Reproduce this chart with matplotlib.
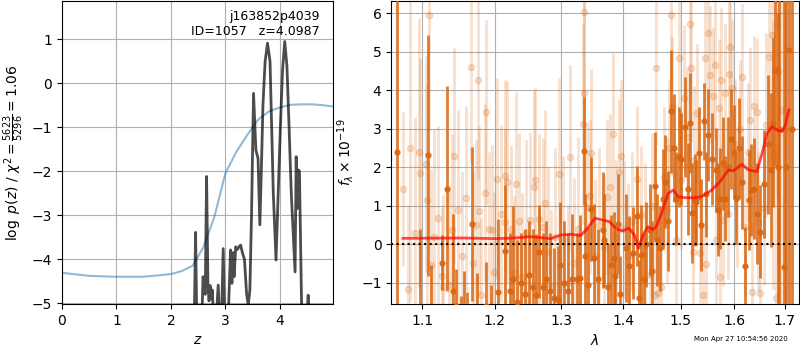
import matplotlib
matplotlib.use("Agg")
import matplotlib.pyplot as plt
from matplotlib.ticker import FixedLocator, FixedFormatter, NullLocator

# ---------------- left panel: p(z) ----------------
z_prior = [0.0, 0.5, 1.0, 1.5, 2.0, 2.2, 2.4, 2.6, 2.8, 3.0, 3.2, 3.4, 3.6, 3.8,
           4.0, 4.2, 4.4, 4.6, 4.8, 4.98]
logp_prior = [-4.31, -4.38, -4.40, -4.40, -4.34, -4.27, -4.15, -3.72, -3.03, -2.05,
              -1.56, -1.18, -0.83, -0.64, -0.55, -0.49, -0.48, -0.48, -0.50, -0.53]

z_pz = [0.0, 2.30, 2.42, 2.440, 2.453, 2.465, 2.48, 2.55, 2.57, 2.59, 2.61, 2.63,
        2.655, 2.68, 2.70, 2.72, 2.74, 2.76, 2.78, 2.83, 2.868, 2.89, 2.93, 2.96,
        2.985, 3.05, 3.075, 3.095, 3.12, 3.14, 3.16, 3.19, 3.22, 3.25, 3.28, 3.316,
        3.35, 3.389, 3.42, 3.45, 3.48, 3.517, 3.56, 3.60, 3.633, 3.66, 3.69, 3.73,
        3.774, 3.82, 3.85, 3.88, 3.93, 3.97, 4.01, 4.05, 4.09, 4.13, 4.17, 4.21,
        4.28, 4.30, 4.32, 4.34, 4.36, 4.40, 4.45, 4.50, 4.52, 4.54, 4.60, 4.98]
logp_pz = [-12.0, -7.0, -6.0, -4.5, -3.39, -4.5, -6.0, -5.5, -5.3, -4.4, -4.6, -4.8,
           -2.12, -4.6, -4.95, -4.6, -4.9, -4.7, -5.3, -5.4, -4.59, -5.3, -5.3, -3.76,
           -5.3, -5.4, -4.5, -3.79, -4.55, -3.85, -4.4, -3.72, -3.78, -3.72, -3.68, -3.87,
           -4.0, -4.78, -5.05, -4.7, -3.0, -0.23, -1.52, -1.71, -3.22, -2.0, -0.5, 0.5,
           0.91, 0.5, -1.0, -2.5, -4.02, -2.5, -1.0, 0.3, 0.95, 0.4, -1.0, -2.5,
           -4.29, -1.67, -2.85, -1.97, -2.0, -5.1, -6.0, -5.3, -4.82, -5.3, -7.0, -9.0]

# ---------------- right panel: spectrum ----------------
wave_d = [1.0673, 1.0970, 1.1072, 1.1116, 1.1260, 1.1329, 1.1411, 1.1451, 1.1522, 1.1568,
          1.1613, 1.1677, 1.1747, 1.1880, 1.1947, 1.2043, 1.2155, 1.2219, 1.2269, 1.2329,
          1.2389, 1.2442, 1.2502, 1.2563, 1.2615, 1.2654, 1.2715, 1.2767, 1.2824, 1.2885,
          1.2954, 1.2979, 1.3042, 1.3105, 1.3175, 1.3244, 1.3297, 1.3361, 1.3380, 1.3415,
          1.3465, 1.3523, 1.3590, 1.3661, 1.3688, 1.3750, 1.3799, 1.3853, 1.3865, 1.3911,
          1.3950, 1.4051, 1.4108, 1.4165, 1.4234, 1.4270, 1.4308, 1.4350, 1.4395, 1.4453,
          1.4500, 1.4540, 1.4582, 1.4628, 1.4688, 1.4729, 1.4777, 1.4823, 1.4877, 1.4926,
          1.4968, 1.5016, 1.5076, 1.5138, 1.5168, 1.5212, 1.5259, 1.5272, 1.5333, 1.5380,
          1.5426, 1.5470, 1.5508, 1.5583, 1.5645, 1.5690, 1.5727, 1.5791, 1.5822, 1.5880,
          1.5938, 1.5984, 1.6040, 1.6092, 1.6145, 1.6210, 1.6276, 1.6327, 1.6375, 1.6440,
          1.6495, 1.6586, 1.6650, 1.6721, 1.6761, 1.6808, 1.6860, 1.6889, 1.6979, 1.7030,
          1.7082, 1.7150]
flux_d = [2.4, -1.8, 2.31, -1.8, -0.48, 1.45, -1.2, -1.6, -2.0, -1.7,
          -2.1, 0.53, -1.8, -1.6, -2.0, -1.25, -0.17, -1.2, -0.9, -1.49,
          -1.0, -1.3, -0.8, -1.1, -1.32, -0.19, -1.1, -0.9, -1.2, -1.4,
          -1.45, -0.54, -1.0, -1.2, -0.9, -0.9, -0.88, 2.42, -0.3, -1.06,
          0.92, -0.36, -0.9, 0.37, 0.10, -1.1, -0.54, -0.36, -0.82, 0.53,
          -1.3, -0.1, -0.56, -0.23, 0.74, -1.4, -0.28, -0.9, 0.0, 0.37,
          -0.7, 1.52, 0.11, -0.1, 1.17, 1.63, 0.6, 3.46, 2.51, 1.19,
          2.26, 2.21, 3.04, 1.44, 3.14, 0.81, 1.15, 1.09, 2.36, 0.5,
          3.2, 1.3, 2.84, 2.21, 1.93, 0.9, 1.19, 2.1, 1.19, 2.0,
          2.73, 2.41, 1.2, 2.49, 1.61, -0.55, 1.15, 1.41, 1.45, 0.8,
          0.33, 1.56, 2.6, 1.93, 3.16, 4.53, 2.0, 3.0, -0.58, 2.0,
          5.05, 3.0]
err_d = [8.0, 2.2, 3.13, 1.26, 0.71, 2.66, 2.0, 0.95, 0.65, 1.0,
         0.85, 2.0, 1.05, 1.15, 0.95, 1.9, 1.7, 1.5, 1.9, 1.6,
         1.3, 1.7, 1.4, 1.5, 1.6, 1.2, 1.4, 1.5, 1.5, 1.3,
         1.4, 1.65, 1.6, 1.5, 1.7, 1.2, 1.64, 1.4, 1.6, 1.5,
         1.36, 1.4, 1.3, 1.5, 1.2, 1.1, 1.3, 1.2, 1.2, 1.3,
         1.0, 1.4, 1.3, 1.2, 1.3, 1.0, 1.3, 1.2, 1.1, 1.2,
         1.3, 1.4, 1.2, 1.1, 1.3, 1.2, 1.3, 1.6, 1.4, 1.2,
         1.3, 1.2, 1.3, 1.2, 1.3, 1.3, 1.2, 1.1, 1.2, 1.2,
         1.0, 1.1, 1.2, 1.2, 1.1, 1.2, 1.3, 1.2, 1.1, 1.3,
         1.3, 1.2, 1.2, 1.3, 1.2, 1.0, 1.3, 1.2, 1.3, 1.3,
         1.2, 1.4, 1.8, 2.0, 2.2, 2.5, 4.0, 5.0, 8.0, 10.0,
         10.0, 10.0]

wave_l = [1.0750, 1.0815, 1.0838, 1.0900, 1.0960, 1.0970, 1.1049, 1.1060, 1.1093, 1.1112,
          1.1160, 1.1214, 1.1268, 1.1282, 1.1362, 1.1402, 1.1425, 1.1480, 1.1537, 1.1600,
          1.1668, 1.1699, 1.1735, 1.1767, 1.1780, 1.1812, 1.1857, 1.1880, 1.1925, 1.1960,
          1.1996, 1.2034, 1.2090, 1.2145, 1.2155, 1.2178, 1.2238, 1.2280, 1.2306, 1.2360,
          1.2402, 1.2460, 1.2515, 1.2575, 1.2600, 1.2662, 1.2722, 1.2748, 1.2790, 1.2835,
          1.2900, 1.2965, 1.3020, 1.3097, 1.3138, 1.3200, 1.3270, 1.3339, 1.3352, 1.3360,
          1.3405, 1.3450, 1.3470, 1.3530, 1.3600, 1.3680, 1.3727, 1.3780, 1.3831, 1.3880,
          1.3930, 1.3966, 1.4020, 1.4080, 1.4150, 1.4230, 1.4300, 1.4380, 1.4453, 1.4500,
          1.4540, 1.4558, 1.4600, 1.4651, 1.4700, 1.4750, 1.4790, 1.4823, 1.4850, 1.4926,
          1.4968, 1.5010, 1.5060, 1.5120, 1.5164, 1.5180, 1.5226, 1.5250, 1.5300, 1.5350,
          1.5400, 1.5443, 1.5470, 1.5506, 1.5540, 1.5590, 1.5625, 1.5660, 1.5700, 1.5727,
          1.5740, 1.5780, 1.5820, 1.5870, 1.5905, 1.5922, 1.5955, 1.6010, 1.6060, 1.6110,
          1.6145, 1.6200, 1.6260, 1.6312, 1.6336, 1.6380, 1.6440, 1.6470, 1.6506, 1.6575,
          1.6620, 1.6678, 1.6734, 1.6760, 1.6819, 1.6838, 1.6870, 1.6920, 1.7000]
flux_l = [1.45, -1.17, 2.49, 0.3, 2.39, 1.84, 2.09, 1.15, 5.96, -0.54,
          0.2, 0.68, -0.82, -1.12, -1.06, 0.37, 2.29, 0.9, -0.3, 1.2,
          4.6, -0.49, 0.5, 4.27, 0.87, -1.32, 1.34, 3.43, 0.39, 0.37,
          -0.73, 1.71, 0.8, 0.59, 1.78, 1.63, 0.39, -0.75, 1.56, 0.6,
          -0.86, 0.3, 0.63, 1.48, 1.67, 0.66, 0.46, 1.08, -0.2, -1.08,
          0.2, 1.83, 0.1, -1.01, 2.26, -0.49, 0.4, 3.13, 6.03, 3.92,
          0.97, 1.26, 2.36, -0.3, 0.5, -0.1, 1.24, 1.48, 2.86, 0.2,
          1.87, 2.30, 0.4, -0.3, 0.6, 1.7, 0.76, 0.2, -0.8, 1.0,
          -1.31, 4.57, -1.27, -1.1, 1.76, 0.9, 2.5, 5.95, 3.58, 0.11,
          4.83, 1.67, 3.80, 2.8, 5.71, 4.57, -0.2, 2.2, 3.4, -0.23,
          -1.32, 4.83, -0.52, 5.48, 4.40, 3.84, 4.66, 0.11, 3.53, -0.84,
          4.27, 0.63, 3.92, 0.8, 4.42, 5.12, 4.05, 2.6, 1.2, 3.0,
          4.35, 0.46, 2.4, 3.23, -1.25, 3.60, 3.45, 0.59, -1.27, 0.94,
          3.1, 4.87, 5.44, 2.32, -1.4, 5.70, 4.51, 3.5, 3.0]
err_l = [2.0, 2.2, 4.0, 3.0, 3.5, 3.0, 2.8, 3.0, 3.0, 2.5,
         2.8, 2.4, 1.8, 2.4, 2.6, 2.5, 2.8, 2.6, 2.2, 2.4,
         2.5, 2.4, 2.2, 2.6, 2.2, 2.0, 2.3, 2.4, 2.0, 2.2,
         2.1, 2.6, 2.3, 2.4, 2.5, 2.6, 2.2, 2.0, 2.4, 2.3,
         2.2, 2.4, 2.3, 2.5, 2.4, 2.2, 2.3, 2.4, 2.2, 2.0,
         2.3, 2.5, 2.2, 2.0, 2.4, 2.2, 2.4, 2.6, 2.4, 2.5,
         2.2, 2.0, 2.2, 2.0, 2.0, 1.9, 2.0, 1.9, 2.1, 2.0,
         1.9, 2.0, 1.8, 1.9, 1.8, 1.9, 1.8, 1.9, 1.7, 1.9,
         1.8, 2.0, 1.7, 1.9, 1.8, 1.9, 1.8, 2.0, 1.8, 1.8,
         1.9, 1.8, 1.9, 1.8, 2.0, 1.9, 1.8, 1.9, 1.8, 1.8,
         1.9, 1.8, 1.7, 1.9, 1.8, 1.8, 1.9, 1.7, 1.8, 1.8,
         1.9, 1.7, 1.8, 1.7, 1.9, 1.8, 1.8, 1.7, 1.8, 1.8,
         1.9, 1.8, 1.8, 1.9, 1.8, 1.8, 1.9, 1.8, 1.7, 2.0,
         2.4, 2.8, 3.2, 3.5, 4.0, 4.5, 5.0, 6.0, 8.0]

wave_m = [1.0750, 1.1558, 1.2034, 1.2329, 1.2528, 1.2835, 1.2990, 1.3148, 1.3308, 1.3415,
          1.3535, 1.3661, 1.3770, 1.3899, 1.3995, 1.4098, 1.4193, 1.4262, 1.4337, 1.4424,
          1.4512, 1.4570, 1.4660, 1.4777, 1.4867, 1.4955, 1.5076, 1.5259, 1.5384, 1.5571,
          1.5727, 1.5888, 1.5980, 1.6145, 1.6276, 1.6440, 1.6540, 1.6640, 1.6740, 1.6842,
          1.6943, 1.7011, 1.7082]
flux_m = [0.156, 0.165, 0.147, 0.17, 0.20, 0.147, 0.24, 0.26, 0.23, 0.42,
          0.68, 0.63, 0.59, 0.39, 0.35, 0.42, 0.24, -0.10, 0.24, 0.46,
          0.39, 0.46, 0.80, 1.32, 1.41, 1.24, 1.21, 1.21, 1.24, 1.41,
          1.63, 1.93, 1.91, 2.08, 1.93, 1.89, 2.36, 2.88, 3.06, 2.97,
          2.93, 3.10, 3.49]

z_ticks = [0, 1, 2, 3, 4]
lam_ticks = [1.1, 1.2, 1.3, 1.4, 1.5, 1.6, 1.7]
lam_labels = ['1.1', '1.2', '1.3', '1.4', '1.5', '1.6', '1.7']

fig = plt.figure(figsize=(8, 3.5), dpi=100)
ax1 = fig.add_axes([0.0775, 0.1314, 0.339, 0.8657])
ax2 = fig.add_axes([0.4891, 0.1314, 0.5096, 0.8657])

# left panel
ax1.plot(z_prior, logp_prior, color='#1f77b4', alpha=0.5, lw=1.5)
ax1.plot(z_pz, logp_pz, color='k', alpha=0.7, lw=2)
ax1.set_xlim(0, 4.98)
ax1.set_ylim(-5.02, 1.87)
ax1.set_xticks(z_ticks)
ax1.grid(True)
ax1.set_xlabel('$z$')
ax1.set_ylabel(r'$\log\ p(z)$' + ' / ' + r'$\chi^2=\frac{5623}{5296}=1.06$')
ax1.text(0.95, 0.97, 'j163852p4039\nID=1057   z=4.0987', transform=ax1.transAxes,
         ha='right', va='top', fontsize=9)

# right panel
orange = '#d9650f'
ax2.errorbar(wave_l, flux_l, yerr=err_l, color=orange, alpha=0.2, marker='o',
             markersize=4.5, linestyle='None', elinewidth=2, zorder=2)
ax2.errorbar(wave_d, flux_d, yerr=err_d, color=orange, alpha=0.85, marker='o',
             markersize=3.5, linestyle='None', elinewidth=2, zorder=3)
ax2.plot(wave_m, flux_m, color='red', alpha=0.7, lw=2, zorder=5)
ax2.axhline(0, color='k', linestyle=':', lw=1.5, zorder=6)
ax2.set_xscale('log')
ax2.set_xlim(1.06, 1.729)
ax2.set_ylim(-1.55, 6.32)
ax2.xaxis.set_major_locator(FixedLocator(lam_ticks))
ax2.xaxis.set_major_formatter(FixedFormatter(lam_labels))
ax2.xaxis.set_minor_locator(NullLocator())
ax2.grid(True)
ax2.set_xlabel(r'$\lambda$')
ax2.set_ylabel(r'$f_\lambda\times10^{-19}$')

fig.text(0.985, 0.03, 'Mon Apr 27 10:54:56 2020', ha='right', va='center', fontsize=5)

fig.savefig('out.png', dpi=100)
